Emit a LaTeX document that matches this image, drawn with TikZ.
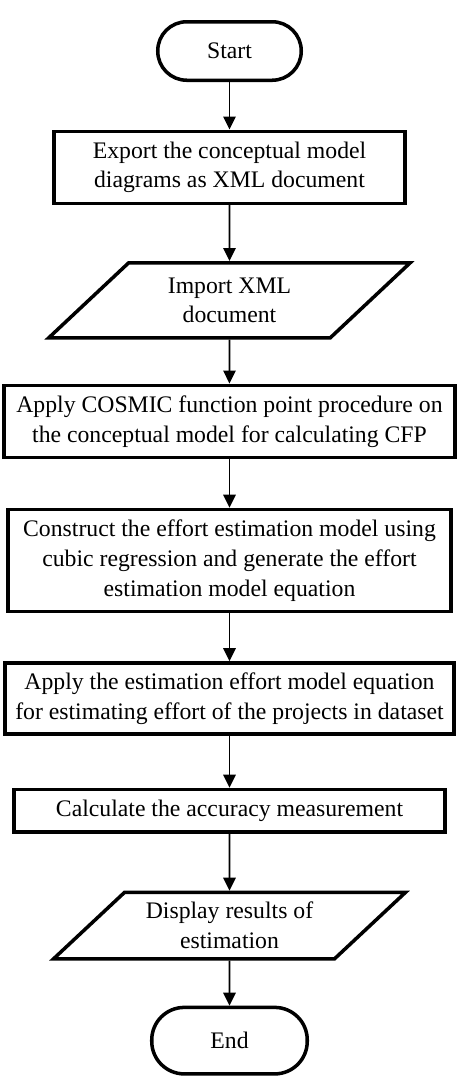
\documentclass[tikz,border=0pt]{standalone}
\usepackage{fontspec}
\setmainfont{Liberation Serif}
\usetikzlibrary{shapes,arrows.meta,positioning}

\begin{document}
\begin{tikzpicture}[node distance=1cm, auto, font=\fontsize{13.5}{17}\selectfont,
    terminal/.style={rectangle, rounded corners=0.58cm, draw, line width=2pt, minimum width=2.87cm, minimum height=1.17cm},
    process/.style={rectangle, draw, line width=2pt, align=center, inner sep=2pt},
    io/.style={trapezium, trapezium left angle=47, trapezium right angle=133, trapezium stretches=true, draw, line width=2pt, align=center},
    flow/.style={-{Triangle[length=0.26cm, width=0.25cm]}, line width=0.9pt}]
    \useasboundingbox (0,0) rectangle (9.18,-21.84);

    \node[terminal] (start) at (4.59,-1.02) {Start};
    \node[process, minimum width=7.03cm, minimum height=1.44cm, below=0.95cm of start] (export) {Export the conceptual model\\diagrams as XML document};
    \node[io, minimum width=7.23cm, minimum height=1.5cm, below=1.12cm of export] (import) {Import XML\\document};
    \node[process, minimum width=9.01cm, minimum height=1.44cm, below=0.88cm of import] (cosmic) {Apply COSMIC function point procedure on\\the conceptual model for calculating CFP};
    \node[process, minimum width=8.85cm, minimum height=2.04cm, below=0.97cm of cosmic] (construct) {Construct the effort estimation model using\\cubic regression and generate the effort\\estimation model equation};
    \node[process, minimum width=8.99cm, minimum height=1.42cm, below=0.96cm of construct] (apply) {Apply the estimation effort model equation\\for estimating effort of the projects in dataset};
    \node[process, minimum width=8.63cm, minimum height=0.85cm, below=1.04cm of apply] (calc) {Calculate the accuracy measurement};
    \node[io, minimum width=7.05cm, minimum height=1.33cm, trapezium left angle=44, trapezium right angle=136, below=1.14cm of calc] (display) {Display results of\\estimation};
    \node[terminal, minimum width=3.11cm, minimum height=1.33cm, rounded corners=0.65cm, below=0.9cm of display] (end) {End};

    \draw[flow] (start) -- (export);
    \draw[flow] (export) -- (import);
    \draw[flow] (import) -- (cosmic);
    \draw[flow] (cosmic) -- (construct);
    \draw[flow] (construct) -- (apply);
    \draw[flow] (apply) -- (calc);
    \draw[flow] (calc) -- (display);
    \draw[flow] (display) -- (end);
\end{tikzpicture}
\end{document}
